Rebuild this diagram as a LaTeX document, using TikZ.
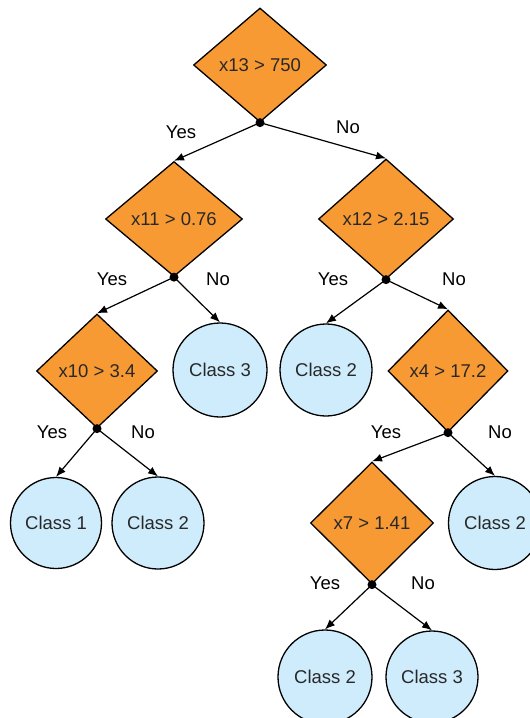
\documentclass[tikz,border=0pt]{standalone}
\usepackage{fontspec}
\setmainfont{Liberation Sans}
\usetikzlibrary{shapes.geometric,arrows.meta}
\definecolor{dfill}{RGB}{248,154,52}
\definecolor{cfill}{RGB}{206,236,252}
\definecolor{ntext}{RGB}{40,40,40}
\tikzset{
  dia/.style={diamond,draw=black,line width=1.3pt,fill=dfill,inner sep=0pt,text=ntext,font=\fontsize{18.5}{20}\selectfont},
  cls/.style={circle,draw=black,line width=1.3pt,fill=cfill,inner sep=0pt,text=ntext,font=\fontsize{18.5}{20}\selectfont},
  lbl/.style={font=\fontsize{18.5}{20}\selectfont,text=black},
  conn/.style={line width=1.2pt,-{Latex[length=10pt,width=8pt]}},
  dot/.style={fill=black}
}
\begin{document}
\begin{tikzpicture}[x=1pt,y=-1pt]
\clip (0,0) rectangle (530,718);
\fill[white] (0,0) rectangle (530,718);
% decision nodes
\node[dia,minimum width=133pt,minimum height=114pt] (d1) at (260,65) {x13 > 750};
\node[dia,minimum width=137pt,minimum height=115pt] (d2) at (174,219) {x11 > 0.76};
\node[dia,minimum width=135pt,minimum height=120pt] (d3) at (386,219) {x12 > 2.15};
\node[dia,minimum width=121pt,minimum height=114pt] (d4) at (97,371) {x10 > 3.4};
\node[dia,minimum width=120pt,minimum height=122pt] (d5) at (448,371) {x4 > 17.2};
\node[dia,minimum width=123pt,minimum height=122pt] (d6) at (372,523) {x7 > 1.41};
% leaves
\node[cls,minimum size=94pt] (c3a) at (220,370) {Class 3};
\node[cls,minimum size=92pt] (c2a) at (326,370) {Class 2};
\node[cls,minimum size=91pt] (c1) at (56,523) {Class 1};
\node[cls,minimum size=92pt] (c2b) at (158,523) {Class 2};
\node[cls,minimum size=93pt] (c2c) at (495,523) {Class 2};
\node[cls,minimum size=94pt] (c2d) at (325,677) {Class 2};
\node[cls,minimum size=92pt] (c3b) at (432,677) {Class 3};
% connectors
\draw[conn] (d1.south) -- (d2.north);
\draw[conn] (d1.south) -- (d3.north);
\draw[conn] (d2.south) -- (d4.north);
\draw[conn] (d2.south) -- (c3a.north);
\draw[conn] (d3.south) -- (c2a.north);
\draw[conn] (d3.south) -- (d5.north);
\draw[conn] (d4.south) -- (c1.north);
\draw[conn] (d4.south) -- (c2b.north);
\draw[conn] (d5.south) -- (d6.north);
\draw[conn] (d5.south) -- (c2c.north);
\draw[conn] (d6.south) -- (c2d.north);
\draw[conn] (d6.south) -- (c3b.north);
% branch dots
\foreach \d in {d1,d2,d3,d4,d5,d6} \fill[dot] (\d.south) circle (4.5pt);
% labels
\node[lbl] (y1) at (181,132) {Yes};
\node[lbl] (n1) at (348,127) {No};
\node[lbl] (y2) at (112,279) {Yes};
\node[lbl] (n2) at (218,279) {No};
\node[lbl] (y3) at (333,279) {Yes};
\node[lbl] (n3) at (454,279) {No};
\node[lbl] (y4) at (52,432) {Yes};
\node[lbl] (n4) at (143,432) {No};
\node[lbl] (y5) at (386,432) {Yes};
\node[lbl] (n5) at (500,432) {No};
\node[lbl] (y6) at (325,583) {Yes};
\node[lbl] (n6) at (423,583) {No};
\end{tikzpicture}
\end{document}
